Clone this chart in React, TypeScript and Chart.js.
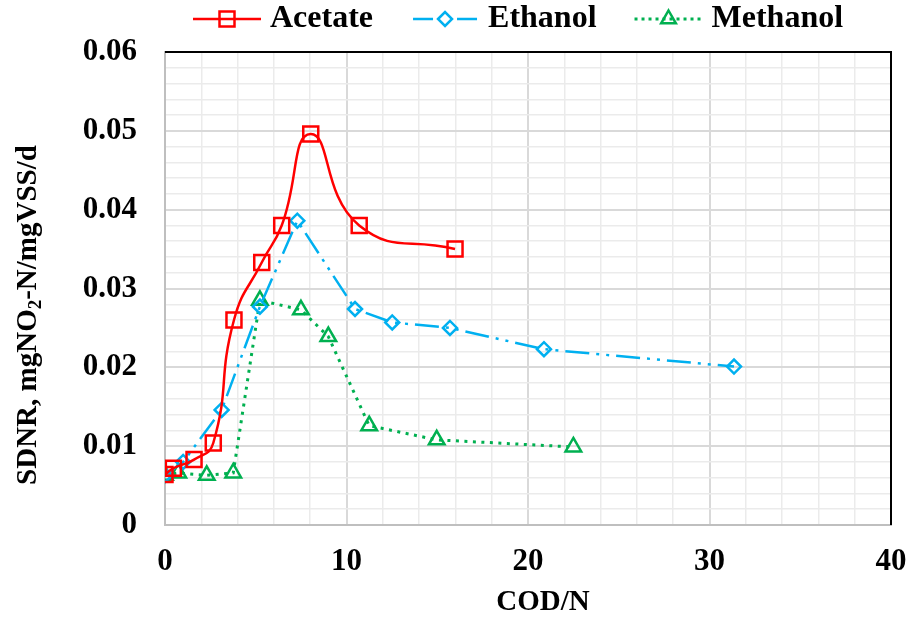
import React, { useEffect, useRef } from 'react';
import { Chart, registerables } from 'chart.js';

Chart.register(...registerables);

const FONT = "'Liberation Serif', 'Times New Roman', serif";

const acetateX = [0, 0.46, 1.6, 2.66, 3.8, 5.33, 6.43, 8.03, 10.7, 15.98];
const acetateY = [0.0064, 0.0072, 0.0083, 0.0104, 0.026, 0.0333, 0.038, 0.0496, 0.038, 0.035];
const ethanolX = [0, 1.0, 3.12, 5.23, 7.29, 10.47, 12.52, 15.7, 20.88, 31.35];
const ethanolY = [0.0063, 0.008, 0.0146, 0.0277, 0.0386, 0.0274, 0.0257, 0.025, 0.0223, 0.0201];
const methanolX = [0, 0.73, 2.3, 3.76, 5.23, 7.49, 9.0, 11.25, 14.97, 22.5];
const methanolY = [0.0063, 0.0066, 0.0063, 0.0066, 0.0285, 0.0273, 0.0239, 0.0126, 0.0108, 0.0099];

const seriesNames = ['Acetate', 'Ethanol', 'Methanol'];
const xTitle = 'COD/N';
const yTitleParts = ['SDNR, mgNO', '2', '-N/mgVSS/d'];

const RED = '#ff0000';
const BLUE = '#00b0f0';
const GREEN = '#00b050';

const toPoints = (xs: number[], ys: number[]) => xs.map((x, i) => ({ x, y: ys[i] }));

const isMajorX = (v: number) => Math.round(v) % 10 === 0;
const isMajorY = (v: number) => Math.round(v * 1000) % 10 === 0;

function drawMarker(ctx: CanvasRenderingContext2D, kind: string, x: number, y: number, color: string) {
  ctx.save();
  ctx.setLineDash([]);
  ctx.strokeStyle = color;
  ctx.lineWidth = 2.5;
  ctx.beginPath();
  if (kind === 'rect') {
    const s = 7.5;
    ctx.rect(x - s, y - s, 2 * s, 2 * s);
  } else if (kind === 'rectRot') {
    const r = 7;
    ctx.moveTo(x - r, y);
    ctx.lineTo(x, y - r);
    ctx.lineTo(x + r, y);
    ctx.lineTo(x, y + r);
    ctx.closePath();
  } else {
    const r = 8.5;
    for (let k = 0; k < 3; k++) {
      const a = (k * 2 * Math.PI) / 3;
      const px = x + Math.sin(a) * r;
      const py = y - Math.cos(a) * r;
      if (k === 0) ctx.moveTo(px, py);
      else ctx.lineTo(px, py);
    }
    ctx.closePath();
  }
  ctx.stroke();
  ctx.restore();
}

const decorPlugin = {
  id: 'decor',
  afterDraw(chart: any) {
    const ctx: CanvasRenderingContext2D = chart.ctx;
    const a = chart.chartArea;
    // top and right black border
    ctx.save();
    ctx.strokeStyle = '#000';
    ctx.lineWidth = 2;
    ctx.setLineDash([]);
    ctx.beginPath();
    ctx.moveTo(a.left, a.top);
    ctx.lineTo(a.right, a.top);
    ctx.lineTo(a.right, a.bottom);
    ctx.stroke();
    ctx.restore();

    // legend
    ctx.save();
    ctx.font = `bold 32px ${FONT}`;
    ctx.textBaseline = 'middle';
    ctx.fillStyle = '#000';
    const ly = 19;
    const specs = [
      { color: RED, dash: [] as number[], kind: 'rect', width: 2.5 },
      { color: BLUE, dash: [] as number[], kind: 'rectRot', width: 2.5 },
      { color: GREEN, dash: [3, 4], kind: 'triangle', width: 3 },
    ];
    let x = 193;
    const sampleW = 68;
    seriesNames.forEach((name, i) => {
      const s = specs[i];
      ctx.save();
      ctx.strokeStyle = s.color;
      ctx.lineWidth = s.width;
      ctx.setLineDash(s.dash);
      ctx.beginPath();
      if (i === 1) {
        ctx.moveTo(x + 2, ly);
        ctx.lineTo(x + 22, ly);
        ctx.moveTo(x + sampleW - 22, ly);
        ctx.lineTo(x + sampleW - 2, ly);
      } else {
        ctx.moveTo(x, ly);
        ctx.lineTo(x + sampleW, ly);
      }
      ctx.stroke();
      ctx.restore();
      drawMarker(ctx, s.kind, x + sampleW / 2, ly, s.color);
      ctx.fillText(name, x + sampleW + 9, ly);
      const tw = ctx.measureText(name).width;
      x = x + sampleW + 9 + tw + 38;
    });
    ctx.restore();

    // x title
    ctx.save();
    ctx.font = `bold 29px ${FONT}`;
    ctx.fillStyle = '#000';
    ctx.textAlign = 'center';
    ctx.textBaseline = 'middle';
    ctx.fillText(xTitle, 543, 603);
    ctx.restore();

    // y title with subscript
    ctx.save();
    ctx.translate(29, 315);
    ctx.rotate(-Math.PI / 2);
    ctx.fillStyle = '#000';
    ctx.textBaseline = 'middle';
    const big = `bold 29px ${FONT}`;
    const small = `bold 19px ${FONT}`;
    ctx.font = big;
    const w0 = ctx.measureText(yTitleParts[0]).width;
    const w2 = ctx.measureText(yTitleParts[2]).width;
    ctx.font = small;
    const w1 = ctx.measureText(yTitleParts[1]).width;
    let tx = -(w0 + w1 + w2) / 2;
    ctx.font = big;
    ctx.fillText(yTitleParts[0], tx, 0);
    tx += w0;
    ctx.font = small;
    ctx.fillText(yTitleParts[1], tx, 7);
    tx += w1;
    ctx.font = big;
    ctx.fillText(yTitleParts[2], tx, 0);
    ctx.restore();
  },
};

export default function App() {
  const ref = useRef<HTMLCanvasElement | null>(null);

  useEffect(() => {
    document.body.style.margin = '0';
    const canvas = ref.current;
    if (!canvas) return;
    const tickFont = { family: FONT, size: 31, weight: 'bold' as const };
    const chart = new Chart(canvas, {
      type: 'scatter',
      data: {
        datasets: [
          {
            label: seriesNames[0],
            data: toPoints(acetateX, acetateY),
            showLine: true,
            borderColor: RED,
            borderWidth: 2.5,
            tension: 0.5,
            pointStyle: 'rect',
            pointRadius: 10.6,
            pointBorderWidth: 2.5,
            pointBorderColor: RED,
            pointBackgroundColor: 'rgba(0,0,0,0)',
            backgroundColor: 'rgba(0,0,0,0)',
          },
          {
            label: seriesNames[1],
            data: toPoints(ethanolX, ethanolY),
            showLine: true,
            borderColor: BLUE,
            borderWidth: 2.5,
            borderDash: [24, 7, 3, 7, 3, 7],
            tension: 0,
            pointStyle: 'rectRot',
            pointRadius: 7,
            pointBorderWidth: 2.5,
            pointBorderColor: BLUE,
            pointBackgroundColor: 'rgba(0,0,0,0)',
            backgroundColor: 'rgba(0,0,0,0)',
          },
          {
            label: seriesNames[2],
            data: toPoints(methanolX, methanolY),
            showLine: true,
            borderColor: GREEN,
            borderWidth: 3,
            borderDash: [3, 5.5],
            tension: 0,
            pointStyle: 'triangle',
            pointRadius: 9,
            pointBorderWidth: 2.5,
            pointBorderColor: GREEN,
            pointBackgroundColor: 'rgba(0,0,0,0)',
            backgroundColor: 'rgba(0,0,0,0)',
          },
        ],
      },
      options: {
        animation: false,
        responsive: true,
        maintainAspectRatio: false,
        layout: { padding: { top: 52, right: 21, left: 0, bottom: 0 } },
        plugins: {
          legend: { display: false },
          tooltip: { enabled: false },
        },
        scales: {
          x: {
            type: 'linear',
            min: 0,
            max: 40,
            afterFit: (s: any) => {
              s.height = 102;
              s.paddingRight = 0;
              s.paddingLeft = 0;
            },
            ticks: {
              stepSize: 2,
              autoSkip: false,
              maxRotation: 0,
              padding: 18,
              color: '#000',
              font: tickFont,
              callback: (v: any) => (isMajorX(Number(v)) ? String(v) : ''),
            },
            grid: {
              drawTicks: false,
              color: (c: any) => (c.tick && isMajorX(c.tick.value) ? '#d9d9d9' : '#ebebeb'),
              lineWidth: (c: any) => (c.tick && isMajorX(c.tick.value) ? 2 : 1.5),
            },
            border: { color: '#bfbfbf', width: 2 },
          },
          y: {
            type: 'linear',
            min: 0,
            max: 0.06,
            afterFit: (s: any) => {
              s.width = 165;
              s.paddingTop = 0;
              s.paddingBottom = 0;
            },
            ticks: {
              stepSize: 0.002,
              autoSkip: false,
              padding: 28,
              color: '#000',
              font: tickFont,
              callback: (v: any) => {
                const n = Number(v);
                if (!isMajorY(n)) return '';
                return Math.round(n * 1000) === 0 ? '0' : n.toFixed(2);
              },
            },
            grid: {
              drawTicks: false,
              color: (c: any) => (c.tick && isMajorY(c.tick.value) ? '#d9d9d9' : '#ebebeb'),
              lineWidth: (c: any) => (c.tick && isMajorY(c.tick.value) ? 2 : 1.5),
            },
            border: { color: '#bfbfbf', width: 2 },
          },
        },
      },
      plugins: [decorPlugin],
    });
    return () => chart.destroy();
  }, []);

  return (
    <div style={{ width: 912, height: 627, position: 'relative', background: '#fff' }}>
      <canvas ref={ref} />
    </div>
  );
}
